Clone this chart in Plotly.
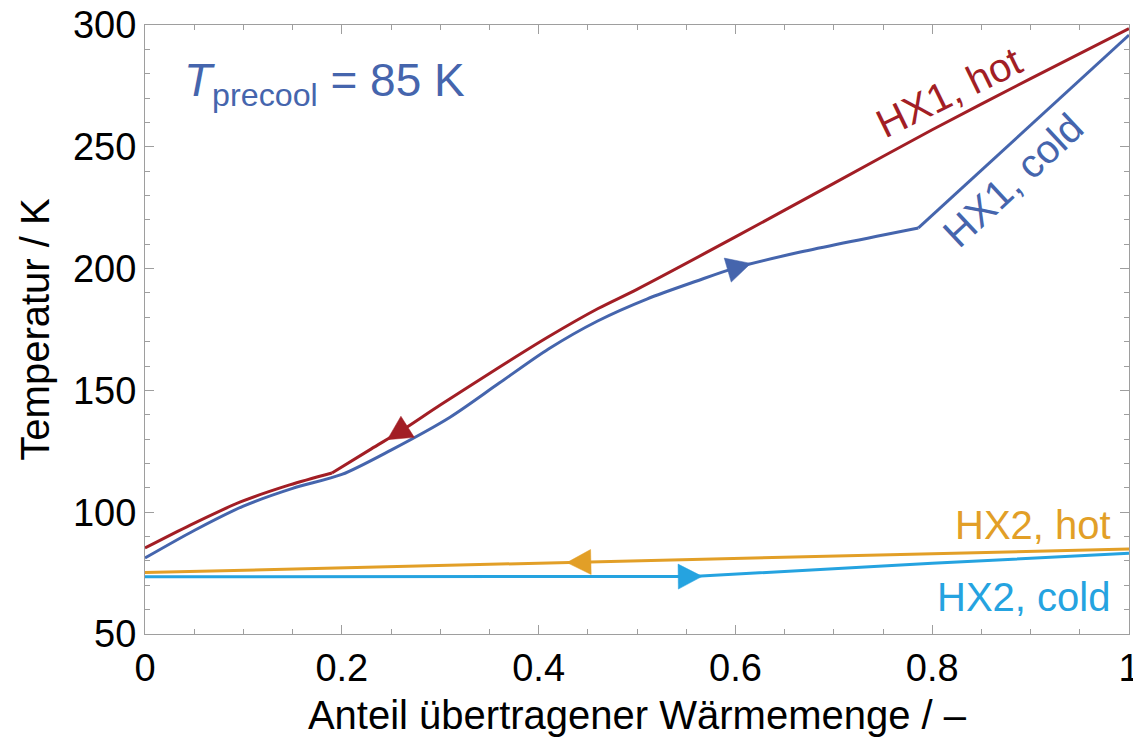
import numpy as np
import plotly.graph_objects as go

# ---------------- data ----------------
hx1_hot_x = [0.0, 0.046, 0.097, 0.147, 0.19, 0.23, 0.26, 0.30, 0.36, 0.41, 0.46, 0.50, 0.60, 0.70, 0.80, 0.90, 1.0]
hx1_hot_T = [85.3, 94.7, 104.2, 111.2, 116.1, 126.0, 133.3, 144.0, 159.5, 172.0, 183.5, 191.5, 213.0, 235.0, 257.0, 278.0, 298.5]
hx1_hot_kink = 4   # index of the corner at x = 0.19

hx1_cold_x = [0.0, 0.05, 0.10, 0.15, 0.20, 0.25, 0.31, 0.36, 0.41, 0.46, 0.51, 0.56, 0.60, 0.666, 0.786, 1.0]
hx1_cold_T = [81.2, 92.5, 102.5, 109.8, 115.5, 125.5, 139.0, 153.0, 167.0, 178.5, 187.5, 194.8, 200.3, 206.8, 216.7, 295.9]
hx1_cold_kink = 14  # index of the corner at x = 0.786

hx2_hot_x = [0.0, 0.25, 0.5, 0.75, 1.0]
hx2_hot_T = [75.2, 77.6, 80.0, 82.4, 84.9]

hx2_cold_x = [0.0, 0.25, 0.556, 0.8, 1.0]
hx2_cold_T = [73.5, 73.5, 73.6, 79.0, 83.1]

# arrow positions (x) and direction (+1 = towards x=1, -1 = towards x=0)
arrow_x = {"hx1_hot": 0.26, "hx1_cold": 0.60, "hx2_hot": 0.445, "hx2_cold": 0.55}
arrow_dir = {"hx1_hot": -1, "hx1_cold": 1, "hx2_hot": -1, "hx2_cold": 1}

x_ticks = [0, 0.2, 0.4, 0.6, 0.8, 1.0]
x_ticktext = ["0", "0.2", "0.4", "0.6", "0.8", "1"]
y_ticks = [50, 100, 150, 200, 250, 300]

# ---------------- style ----------------
W, H = 1133, 741
ML, MR, MT, MB = 145, 4, 25, 107
XR = (0.0, 1.0)
YR = (50.0, 300.0)
PX_X = (W - ML - MR) / (XR[1] - XR[0])
PX_Y = (H - MT - MB) / (YR[1] - YR[0])

RED = "#A21E25"
BLUE = "#4565AD"
ORANGE = "#E29F27"
CYAN = "#25A3E0"
AXC = "#9E9E9E"
FONT = "Liberation Sans, Arial, Helvetica, sans-serif"
LW = 3

fig = go.Figure()


def add_line(xs, ts, col, shape):
    fig.add_trace(go.Scatter(x=xs, y=ts, mode="lines",
                             line=dict(color=col, width=LW, shape=shape, smoothing=0.8) if shape == "spline"
                             else dict(color=col, width=LW),
                             hoverinfo="skip", showlegend=False))


# HX1 hot: smooth part before the corner, smooth part after
k = hx1_hot_kink
add_line(hx1_hot_x[:k + 1], hx1_hot_T[:k + 1], RED, "spline")
add_line(hx1_hot_x[k:], hx1_hot_T[k:], RED, "spline")
# HX1 cold: smooth part up to the corner, then straight
k = hx1_cold_kink
add_line(hx1_cold_x[:k + 1], hx1_cold_T[:k + 1], BLUE, "spline")
add_line(hx1_cold_x[k:], hx1_cold_T[k:], BLUE, "linear")
# HX2
add_line(hx2_hot_x, hx2_hot_T, ORANGE, "linear")
add_line(hx2_cold_x, hx2_cold_T, CYAN, "linear")

series = [
    ("hx1_hot", hx1_hot_x, hx1_hot_T, RED),
    ("hx1_cold", hx1_cold_x, hx1_cold_T, BLUE),
    ("hx2_hot", hx2_hot_x, hx2_hot_T, ORANGE),
    ("hx2_cold", hx2_cold_x, hx2_cold_T, CYAN),
]

ARROW_LEN = 24.0   # px, apex to base
ARROW_BASE = 25.0  # px

for key, xs, ts, col in series:
    xa = arrow_x[key]
    ta = float(np.interp(xa, xs, ts))
    h = 0.01
    t1 = float(np.interp(xa + h, xs, ts))
    t0 = float(np.interp(xa - h, xs, ts))
    slope = (t1 - t0) / (2 * h)
    d = arrow_dir[key]
    ux, uy = d * PX_X, -d * slope * PX_Y   # screen direction (y down)
    n = np.hypot(ux, uy)
    ux, uy = ux / n, uy / n
    px_, py_ = -uy, ux
    pts = [
        (ux * ARROW_LEN * 2 / 3, uy * ARROW_LEN * 2 / 3),
        (-ux * ARROW_LEN / 3 + px_ * ARROW_BASE / 2, -uy * ARROW_LEN / 3 + py_ * ARROW_BASE / 2),
        (-ux * ARROW_LEN / 3 - px_ * ARROW_BASE / 2, -uy * ARROW_LEN / 3 - py_ * ARROW_BASE / 2),
    ]
    ax_ = [xa + p[0] / PX_X for p in pts] + [xa + pts[0][0] / PX_X]
    at_ = [ta - p[1] / PX_Y for p in pts] + [ta - pts[0][1] / PX_Y]
    fig.add_trace(go.Scatter(x=ax_, y=at_, mode="lines", fill="toself",
                             fillcolor=col, line=dict(color=col, width=0.5),
                             hoverinfo="skip", showlegend=False))

annots = [
    dict(text="HX1, hot", x=0.817, y=272.5, textangle=-26, color=RED, xanchor="center"),
    dict(text="HX1, cold", x=0.882, y=236.5, textangle=-43, color=BLUE, xanchor="center"),
    dict(text="HX2, hot", x=0.984, y=94.6, textangle=0, color=ORANGE, xanchor="right"),
    dict(text="HX2, cold", x=0.983, y=65.1, textangle=0, color=CYAN, xanchor="right"),
]
for a in annots:
    fig.add_annotation(x=a["x"], y=a["y"], xref="x", yref="y", text=a["text"],
                       textangle=a["textangle"], showarrow=False,
                       xanchor=a["xanchor"], yanchor="middle",
                       font=dict(family=FONT, size=40, color=a["color"]))

fig.add_annotation(x=0.038, y=276, xref="x", yref="y",
                   text="<i>T</i><sub>precool</sub> = 85 K", showarrow=False,
                   xanchor="left", yanchor="middle",
                   font=dict(family=FONT, size=46, color=BLUE))

axis_common = dict(
    showline=True, linecolor=AXC, linewidth=1.2, mirror="ticks",
    ticks="inside", tickcolor=AXC, tickwidth=1.2, ticklen=9,
    showgrid=False, zeroline=False, automargin=False,
    tickfont=dict(family=FONT, size=38, color="black"),
)

fig.update_xaxes(range=list(XR), tickvals=x_ticks, ticktext=x_ticktext,
                 ticklabeloverflow="allow",
                 minor=dict(dtick=0.05, ticks="inside", ticklen=5, tickcolor=AXC, tickwidth=1.2, showgrid=False),
                 title=dict(text="Anteil übertragener Wärmemenge / –",
                            font=dict(family=FONT, size=40, color="black"), standoff=13),
                 **axis_common)
fig.update_yaxes(range=list(YR), tickvals=y_ticks,
                 minor=dict(dtick=10, ticks="inside", ticklen=5, tickcolor=AXC, tickwidth=1.2, showgrid=False),
                 title=dict(text="Temperatur / K",
                            font=dict(family=FONT, size=40, color="black"), standoff=10),
                 **axis_common)

fig.update_layout(width=W, height=H, margin=dict(l=ML, r=MR, t=MT, b=MB),
                  plot_bgcolor="white", paper_bgcolor="white", showlegend=False)

fig.write_html("out.html", config={"displayModeBar": False},
               post_script="document.body.style.margin='0';")
